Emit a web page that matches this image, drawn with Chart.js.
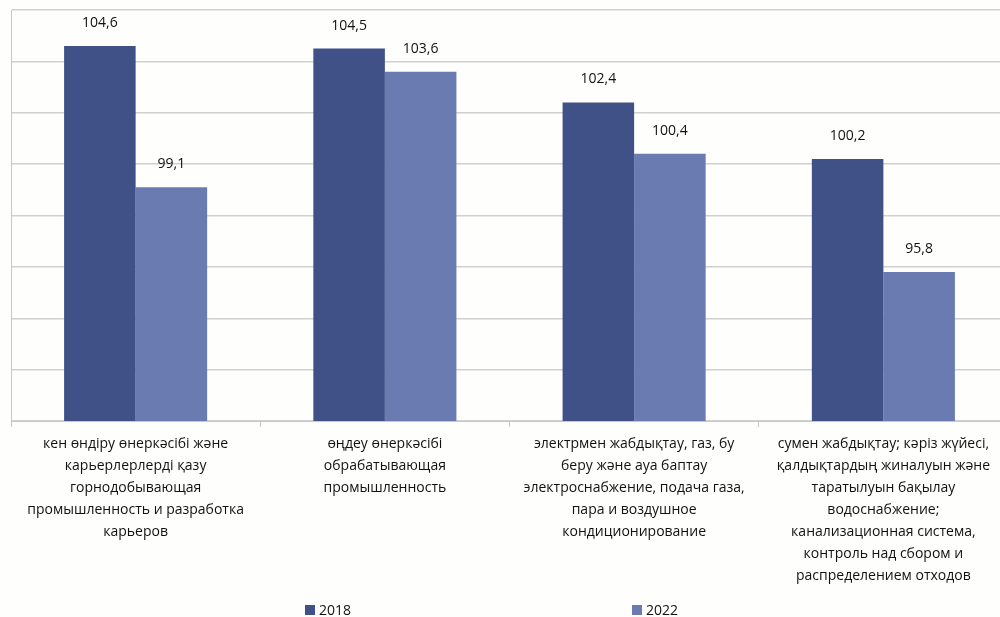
<!DOCTYPE html>
<html>
<head>
<meta charset="utf-8">
<script src="https://cdn.jsdelivr.net/npm/chart.js@4/dist/chart.umd.min.js"></script>
<style>
  html, body { margin: 0; padding: 0; background: #fefefc; overflow: hidden; }
  #wrap { position: relative; width: 1008px; height: 617px; }
</style>
</head>
<body>
<div id="wrap"><canvas id="chart"></canvas></div>
<script>
// categories (two-language labels, one line per array item)
const categories = [
  ['кен өндіру өнеркәсібі және', 'карьерлерлерді қазу', 'горнодобывающая', 'промышленность и разработка', 'карьеров'],
  ['өңдеу өнеркәсібі', 'обрабатывающая', 'промышленность'],
  ['электрмен жабдықтау, газ, бу', 'беру және ауа баптау', 'электроснабжение, подача газа,', 'пара и воздушное', 'кондиционирование'],
  ['сумен жабдықтау; кәріз жүйесі,', 'қалдықтардың жиналуын және', 'таратылуын бақылау', 'водоснабжение;', 'канализационная система,', 'контроль над сбором и', 'распределением отходов']
];
const values2018 = [104.6, 104.5, 102.4, 100.2];
const values2022 = [99.1, 103.6, 100.4, 95.8];
const seriesNames = ['2018', '2022'];

const FONT = "'Open Sans', sans-serif";

// value labels above the bars, decimal comma
const valueLabels = {
  id: 'valueLabels',
  afterDatasetsDraw(chart) {
    const ctx = chart.ctx;
    ctx.save();
    ctx.font = '14px ' + FONT;
    ctx.fillStyle = '#111';
    ctx.textAlign = 'center';
    ctx.textBaseline = 'alphabetic';
    chart.data.datasets.forEach((ds, i) => {
      chart.getDatasetMeta(i).data.forEach((bar, j) => {
        ctx.fillText(ds.data[j].toFixed(1).replace('.', ','), bar.x, bar.y - 19);
      });
    });
    ctx.restore();
  }
};

// wide excel-style legend at the bottom
const bottomLegend = {
  id: 'bottomLegend',
  afterDraw(chart) {
    const ctx = chart.ctx;
    const xs = [305, 632];
    ctx.save();
    ctx.font = '14px ' + FONT;
    ctx.textBaseline = 'alphabetic';
    ctx.textAlign = 'left';
    chart.data.datasets.forEach((ds, i) => {
      ctx.fillStyle = ds.backgroundColor;
      ctx.fillRect(xs[i], 605, 10, 10);
      ctx.fillStyle = '#111';
      ctx.fillText(ds.label, xs[i] + 14, 615);
    });
    ctx.restore();
  }
};

new Chart(document.getElementById('chart'), {
  type: 'bar',
  data: {
    labels: categories,
    datasets: [
      { label: seriesNames[0], data: values2018, backgroundColor: '#3f5186' },
      { label: seriesNames[1], data: values2022, backgroundColor: '#6a7bb1' }
    ]
  },
  options: {
    responsive: true,
    maintainAspectRatio: false,
    animation: false,
    datasets: { bar: { categoryPercentage: 0.574, barPercentage: 1.0 } },
    layout: { padding: { left: 11, top: 10, right: 0, bottom: 0 } },
    plugins: { legend: { display: false }, tooltip: { enabled: false } },
    scales: {
      x: {
        grid: { drawOnChartArea: false, drawTicks: true, tickLength: 6, color: '#c8c8c8' },
        border: { color: '#c8c8c8', width: 1 },
        ticks: {
          color: '#111',
          font: { family: FONT, size: 14, lineHeight: 1.57 },
          padding: 6,
          maxRotation: 0,
          autoSkip: false
        },
        afterFit(scale) { scale.height = 196; }
      },
      y: {
        min: 90,
        max: 106,
        ticks: { display: false, stepSize: 2 },
        grid: { color: '#d0d0d0', lineWidth: 1.5, drawTicks: false },
        border: { color: '#c8c8c8', width: 1 },
        afterFit(scale) { scale.width = 0; }
      }
    }
  },
  plugins: [valueLabels, bottomLegend]
});
</script>
</body>
</html>
